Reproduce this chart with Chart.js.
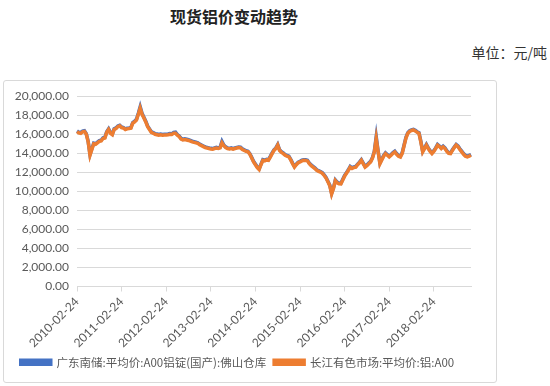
<!DOCTYPE html>
<html>
<head>
<meta charset="utf-8">
<script src="https://cdn.jsdelivr.net/npm/chart.js@4.4.1/dist/chart.umd.min.js"></script>
<style>
  body { margin: 0; background: #fff; width: 550px; height: 386px; position: relative; overflow: hidden; }
  #title { position: absolute; left: 168px; top: 4px; width: 132px; text-align: center;
    font: bold 16px "Noto Sans CJK SC", sans-serif; color: #222; }
  #unit { position: absolute; right: 3px; top: 42px; font: 14px "Noto Sans CJK SC", sans-serif; color: #333; }
  #box { position: absolute; left: 3px; top: 80px; width: 494px; height: 303px;
    border: 1px solid #d9d9d9; border-radius: 3px; box-sizing: border-box; }
</style>
</head>
<body>
<div id="title">现货铝价变动趋势</div>
<div id="unit">单位：元/吨</div>
<div id="box"><canvas id="myChart"></canvas></div>
<script>
const years = [2010, 2011, 2012, 2013, 2014, 2015, 2016, 2017, 2018];
const periods = ['02-24', '03-09', '03-24', '04-09', '04-24', '05-09', '05-24', '06-09', '06-24', '07-09', '07-24', '08-09',
    '08-24', '09-09', '09-24', '10-09', '10-24', '11-09', '11-24', '12-09', '12-24', '01-09', '01-24', '02-09'];

const foshan = [
    16350, 16220, 16170, 16320, 16370, 16070, 15270, 13870, 14470, 15070, 15020, 15170, 15320, 15370, 15620, 15670, 16270, 16570, 16170, 16020, 16570, 16670, 16870, 16950,
    16770, 16710, 16570, 16640, 16670, 16710, 17230, 17370, 17580, 18200, 18900, 18200, 17780, 17370, 16870, 16570, 16270, 16170, 16070, 16020, 15970, 16020, 15970, 16000,
    15990, 16020, 16070, 16050, 16200, 16220, 15970, 15820, 15570, 15470, 15520, 15470, 15420, 15350, 15270, 15220, 15170, 15110, 14970, 14870, 14770, 14670, 14620, 14570,
    14520, 14500, 14570, 14620, 14570, 14640, 15250, 14870, 14670, 14570, 14520, 14570, 14500, 14570, 14620, 14670, 14640, 14470, 14370, 14270, 14220, 13970, 13570, 13160,
    12870, 12570, 12370, 12870, 13330, 13270, 13370, 13330, 13670, 14040, 14370, 14570, 14930, 14370, 14170, 14040, 13870, 13770, 13690, 13370, 12970, 12620, 12870, 13070,
    13160, 13270, 13330, 13320, 13270, 12970, 12770, 12620, 12470, 12270, 12170, 12090, 11970, 11740, 11470, 11070, 10670, 9790, 10370, 11200, 10970, 10870, 10850, 11270,
    11670, 11970, 12270, 12620, 12470, 12570, 12620, 12870, 13070, 13330, 12970, 12620, 12770, 12970, 13160, 13570, 14220, 15750, 14270, 12980, 13370, 13770, 14040, 13870,
    13690, 13870, 14070, 14220, 13970, 13770, 13690, 14070, 14870, 15670, 16170, 16370, 16470, 16520, 16420, 16270, 16170, 15270, 14220, 14570, 14930, 14570, 14270, 14040,
    14270, 14570, 14930, 14770, 14570, 14750, 14570, 14270, 14070, 14040, 14370, 14670, 14930, 14770, 14470, 14220, 13970, 13770, 13690, 13770, 13870
];

const changjiang = [
    16280, 16150, 16100, 16250, 16300, 16000, 15200, 13800, 14400, 15000, 14950, 15100, 15250, 15300, 15550, 15600, 16200, 16500, 16100, 15950, 16500, 16600, 16800, 16880,
    16700, 16640, 16500, 16570, 16600, 16640, 17160, 17300, 17500, 18100, 18750, 18100, 17700, 17300, 16800, 16500, 16200, 16100, 16000, 15950, 15900, 15950, 15900, 15930,
    15920, 15950, 16000, 15980, 16100, 16100, 15900, 15750, 15500, 15400, 15450, 15400, 15350, 15280, 15200, 15150, 15100, 15040, 14900, 14800, 14700, 14600, 14550, 14500,
    14450, 14430, 14500, 14550, 14500, 14570, 15100, 14800, 14600, 14500, 14450, 14500, 14430, 14500, 14550, 14600, 14570, 14400, 14300, 14200, 14150, 13900, 13500, 13090,
    12800, 12500, 12300, 12800, 13260, 13200, 13300, 13260, 13600, 13970, 14300, 14500, 14860, 14300, 14100, 13970, 13800, 13700, 13620, 13300, 12900, 12550, 12800, 13000,
    13090, 13200, 13260, 13250, 13200, 12900, 12700, 12550, 12400, 12200, 12100, 12020, 11900, 11670, 11400, 11000, 10600, 9720, 10300, 11130, 10900, 10800, 10780, 11200,
    11600, 11900, 12200, 12550, 12400, 12500, 12550, 12800, 13000, 13260, 12900, 12550, 12700, 12900, 13090, 13500, 14150, 15550, 14200, 12910, 13300, 13700, 13970, 13800,
    13620, 13800, 14000, 14150, 13900, 13700, 13620, 14000, 14800, 15600, 16100, 16300, 16400, 16450, 16350, 16200, 16100, 15200, 14150, 14500, 14860, 14500, 14200, 13970,
    14200, 14500, 14860, 14700, 14500, 14680, 14500, 14200, 14000, 13970, 14300, 14600, 14860, 14700, 14400, 14150, 13900, 13700, 13620, 13700, 13800
];

// dates: 9th and 24th of each month, Jan/Feb-09 belong to next year
const labels = [];
years.forEach(y => {
    periods.forEach(p => {
        const yy = (p.startsWith('01') || p === '02-09') ? y + 1 : y;
        labels.push(yy + '-' + p);
    });
});
labels.length = changjiang.length;

const axisFont = { family: 'Lato, "Noto Sans CJK SC", sans-serif', size: 12 };
const ctx = document.getElementById('myChart');

new Chart(ctx, {
    type: 'line',
    data: {
        labels: labels,
        datasets: [{
            label: '广东南储:平均价:A00铝锭(国产):佛山仓库',
            data: foshan,
            borderColor: '#4472C4',
            backgroundColor: '#4472C4',
            borderWidth: 3.5,
            pointRadius: 0,
            order: 1,
        }, {
            label: '长江有色市场:平均价:铝:A00',
            data: changjiang,
            borderColor: '#ED7D31',
            backgroundColor: '#ED7D31',
            borderWidth: 3.5,
            pointRadius: 0,
            order: 0,
        }]
    },
    options: {
        responsive: true,
        maintainAspectRatio: false,
        animation: false,
        layout: { padding: { left: 0, top: 14, right: 25, bottom: 4 } },
        plugins: {
            tooltip: { enabled: false },
            legend: {
                position: 'bottom',
                labels: {
                    boxWidth: 30,
                    boxHeight: 4,
                    padding: 8,
                    color: '#595959',
                    font: { family: '"Noto Sans CJK SC", sans-serif', size: 11.5 },
                    sort: (a, b) => a.datasetIndex - b.datasetIndex,
                }
            }
        },
        scales: {
            x: {
                afterFit: s => { s.height = 62; },
                grid: {
                    drawOnChartArea: false,
                    tickLength: 5,
                    color: c => (c.tick && c.tick.label) ? '#d9d9d9' : 'transparent',
                },
                border: { color: '#d9d9d9' },
                ticks: {
                    autoSkip: false,
                    maxRotation: 45,
                    minRotation: 45,
                    color: '#595959',
                    font: axisFont,
                    callback: function (value) {
                        const l = this.getLabelForValue(value);
                        return l.endsWith('-02-24') ? l : null;
                    }
                }
            },
            y: {
                min: 0,
                max: 20000,
                afterFit: s => { s.width = 73; },
                grid: { color: '#d9d9d9', drawTicks: false },
                border: { display: false },
                ticks: {
                    autoSkip: false,
                    stepSize: 2000,
                    padding: 8,
                    color: '#595959',
                    font: axisFont,
                    callback: v => v.toLocaleString('en-US', { minimumFractionDigits: 2, maximumFractionDigits: 2 })
                }
            }
        }
    }
});
</script>
</body>
</html>
